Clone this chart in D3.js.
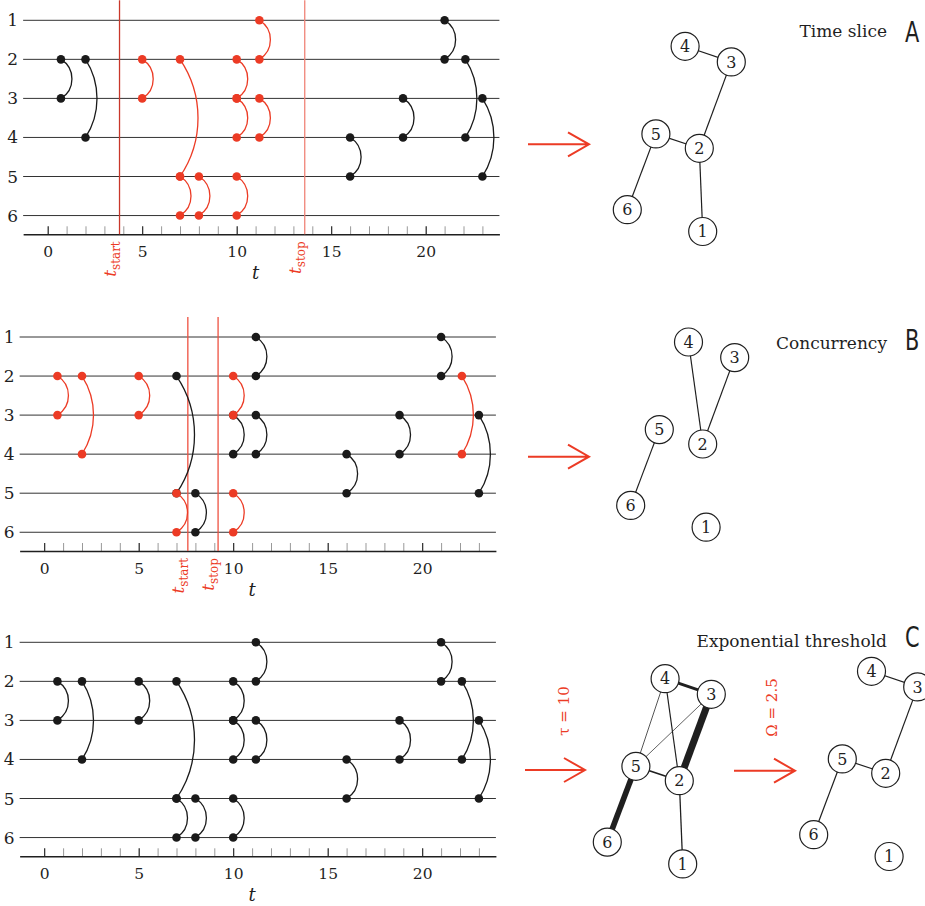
<!DOCTYPE html>
<html>
<head>
<meta charset="utf-8">
<script src="https://cdn.jsdelivr.net/npm/d3@7"></script>
<style>
  body { margin: 0; background: #fff; }
  svg { display: block; font-family: "DejaVu Serif", serif; }
</style>
</head>
<body>
<svg id="chart" width="925" height="906"></svg>
<script>
// contact sequence: at time t nodes a and b are in contact
const nodeIds = [1, 2, 3, 4, 5, 6];
const contactTimes = [0.7, 2, 5, 7, 7, 8, 10, 10, 10, 11.2, 11.2, 16, 18.8, 21, 22.1, 23];
const contactFrom = [2, 2, 2, 2, 5, 5, 2, 3, 5, 1, 3, 4, 3, 1, 2, 3];
const contactTo = [3, 4, 3, 5, 6, 6, 3, 4, 6, 2, 4, 5, 4, 2, 4, 5];
const tickValues = [0, 5, 10, 15, 20];
const sliceWindow = [3.8, 13.6];
const concurrencyWindow = [7.6, 9.2];
// exponentially weighted edges (tau = 10)
const weightFrom = [2, 5, 3, 2, 1, 2, 4, 3];
const weightTo = [3, 6, 4, 5, 2, 4, 5, 5];
const edgeWeights = [12, 9.7, 5.1, 2.9, 2.2, 2.0, 1.3, 1.2];
const tau = 10;
const omega = 2.5;

const svg = d3.select("#chart");
const red = "#ec3b25";
const ink = "#1f1f1f";
const unit = 18.9, rowGap = 39.05, tMin = -1.3, tMax = 23.9;
const sagitta = [0, 11, 11.5, 18, 20, 22];

const contacts = contactTimes.map((t, i) => ({ t, a: contactFrom[i], b: contactTo[i] }));
const pairKey = (a, b) => Math.min(a, b) + "-" + Math.max(a, b);

function inSlice(c) {
  return c.t >= sliceWindow[0] && c.t <= sliceWindow[1];
}
// pair whose contacts span the window
function concurrentPair(c) {
  const ts = contacts.filter(d => pairKey(d.a, d.b) === pairKey(c.a, c.b)).map(d => d.t);
  return d3.min(ts) <= concurrencyWindow[1] && d3.max(ts) >= concurrencyWindow[0];
}
// highlighted contacts: those of concurrent pairs outside the window
function concurrentMark(c) {
  const inside = c.t >= concurrencyWindow[0] && c.t <= concurrencyWindow[1];
  return concurrentPair(c) && !inside;
}
function uniquePairs(list) {
  const seen = new Map();
  list.forEach(c => seen.set(pairKey(c.a, c.b), { a: c.a, b: c.b, w: 1 }));
  return [...seen.values()];
}

function arcPath(x, y1, y2) {
  const c = Math.abs(y2 - y1);
  const s = sagitta[Math.round(c / rowGap)] || 11;
  const r = (c * c / 4 + s * s) / (2 * s);
  return `M${x},${Math.min(y1, y2)} A${r},${r} 0 0 1 ${x},${Math.max(y1, y2)}`;
}

function drawTimeline(cfg) {
  const x = d3.scaleLinear().domain([tMin, tMax]).range([cfg.x0 + tMin * unit, cfg.x0 + tMax * unit]);
  const y = d3.scaleLinear().domain([1, 6]).range([cfg.top, cfg.top + 5 * rowGap]);
  const axisY = cfg.top + 214;
  const g = svg.append("g");

  g.append("g").selectAll("line").data(nodeIds).join("line")
    .attr("x1", x(tMin)).attr("x2", x(tMax))
    .attr("y1", d => y(d)).attr("y2", d => y(d))
    .attr("stroke", "#333").attr("stroke-width", 1);

  g.append("g").selectAll("text").data(nodeIds).join("text")
    .attr("x", x(tMin) - 10.5).attr("y", d => y(d) + 6)
    .attr("text-anchor", "middle").attr("font-size", 17).attr("fill", ink)
    .text(d => d);

  // minor ticks
  const minor = g.append("g").attr("transform", `translate(0,${axisY})`)
    .call(d3.axisBottom(x).tickValues(d3.range(0, 24)).tickSize(-8).tickSizeOuter(0).tickFormat(""));
  minor.select(".domain").remove();
  minor.selectAll(".tick line").attr("stroke", "#999");

  const major = g.append("g").attr("transform", `translate(0,${axisY})`)
    .call(d3.axisBottom(x).tickValues(tickValues).tickSize(-8).tickSizeOuter(0).tickPadding(11.7));
  major.select(".domain").attr("stroke", ink).attr("stroke-width", 1.4);
  major.selectAll(".tick line").attr("stroke", ink);
  major.selectAll(".tick text").attr("font-family", "DejaVu Serif").attr("font-size", 15.5).attr("fill", ink);

  g.append("text")
    .attr("x", x(11)).attr("y", axisY + 45)
    .attr("text-anchor", "middle").attr("font-size", 18).attr("font-style", "italic").attr("fill", ink)
    .text("t");

  if (cfg.win) {
    cfg.win.forEach((v, i) => {
      g.append("line")
        .attr("x1", x(v)).attr("x2", x(v))
        .attr("y1", cfg.top - 20).attr("y2", axisY)
        .attr("stroke", cfg.winColors[i]).attr("stroke-width", 1.3);
      const lab = g.append("text")
        .attr("transform", `translate(${x(v) - 4},${axisY + 7}) rotate(-90)`)
        .attr("text-anchor", "end").attr("fill", red);
      lab.append("tspan").attr("font-style", "italic").attr("font-size", 17).text("t");
      lab.append("tspan").attr("font-size", 12).attr("dy", 4).text(i === 0 ? "start" : "stop");
    });
  }

  const marked = contacts.map(c => ({ ...c, hot: cfg.hot(c) }));
  [false, true].forEach(hot => {
    const sub = marked.filter(c => c.hot === hot);
    const col = hot ? red : "#1a1a1a";
    g.append("g").selectAll("path").data(sub).join("path")
      .attr("d", d => arcPath(x(d.t), y(d.a), y(d.b)))
      .attr("fill", "none").attr("stroke", col).attr("stroke-width", 1.3);
    g.append("g").selectAll("circle").data(sub.flatMap(d => [[d.t, d.a], [d.t, d.b]])).join("circle")
      .attr("cx", d => x(d[0])).attr("cy", d => y(d[1])).attr("r", 4.3)
      .attr("fill", col);
  });
}

const layout = { 1: [3.4, 83.2], 2: [0, 0], 3: [32, -86.4], 4: [-14.2, -102], 5: [-43.4, -14.4], 6: [-72, 61.4] };
const widthScale = d3.scaleLinear().domain([0, 12]).range([0, 7]);

function drawGraph(cx, cy, edges, weighted) {
  const g = svg.append("g").attr("transform", `translate(${cx},${cy})`);
  g.selectAll("line").data(edges).join("line")
    .attr("x1", d => layout[d.a][0]).attr("y1", d => layout[d.a][1])
    .attr("x2", d => layout[d.b][0]).attr("y2", d => layout[d.b][1])
    .attr("stroke", ink).attr("stroke-width", d => weighted ? widthScale(d.w) : 1.2);
  const n = g.selectAll("g.node").data(nodeIds).join("g").attr("class", "node")
    .attr("transform", d => `translate(${layout[d][0]},${layout[d][1]})`);
  n.append("circle").attr("r", 14).attr("fill", "#fff").attr("stroke", ink).attr("stroke-width", 1.2);
  n.append("text").attr("text-anchor", "middle").attr("y", 5.6)
    .attr("font-size", 16).attr("fill", ink).text(d => d);
}

function arrow(x1, x2, y) {
  svg.append("path")
    .attr("d", `M${x1},${y}H${x2}M${x2 - 21},${y - 12}L${x2},${y}L${x2 - 21},${y + 12}`)
    .attr("fill", "none").attr("stroke", red).attr("stroke-width", 2);
}

function title(label, letter, base, letterBase) {
  svg.append("text").attr("x", 887).attr("y", base).attr("text-anchor", "end")
    .attr("font-size", 17).attr("fill", ink).text(label);
  svg.append("text").attr("transform", `translate(905,${letterBase}) scale(0.72,1)`)
    .attr("font-family", "DejaVu Sans").attr("font-size", 29).attr("fill", ink).text(letter);
}

function sideLabel(cx, cy, txt) {
  svg.append("text").attr("transform", `translate(${cx},${cy}) rotate(-90)`)
    .attr("text-anchor", "middle").attr("dy", "0.35em")
    .attr("font-size", 15).attr("fill", red).text(txt);
}

// A: time slice
drawTimeline({ x0: 47.7, top: 20.3, win: sliceWindow, winColors: ["#c9372a", "#f08377"], hot: inSlice });
drawGraph(699.3, 148.3, uniquePairs(contacts.filter(inSlice)), false);
arrow(528, 589, 144.3);
title("Time slice", "A", 37, 41.5);

// B: concurrency
drawTimeline({ x0: 44.2, top: 337, win: concurrencyWindow, winColors: ["#ee5040", "#ee5040"], hot: concurrentMark });
drawGraph(702.7, 444, uniquePairs(contacts.filter(concurrentPair)), false);
arrow(528, 589, 456.7);
title("Concurrency", "B", 349, 350);

// C: exponential threshold
drawTimeline({ x0: 44.2, top: 642.3, win: null, hot: () => false });
const weightedEdges = edgeWeights.map((w, i) => ({ a: weightFrom[i], b: weightTo[i], w }));
drawGraph(679.3, 780.7, weightedEdges, true);
drawGraph(885.7, 773.3, weightedEdges.filter(d => d.w > omega), false);
arrow(525, 585, 770);
arrow(734, 795, 770.7);
sideLabel(563.5, 711, "τ = " + tau);
sideLabel(771.7, 707.5, "Ω = " + omega);
title("Exponential threshold", "C", 647, 647);
</script>
</body>
</html>
